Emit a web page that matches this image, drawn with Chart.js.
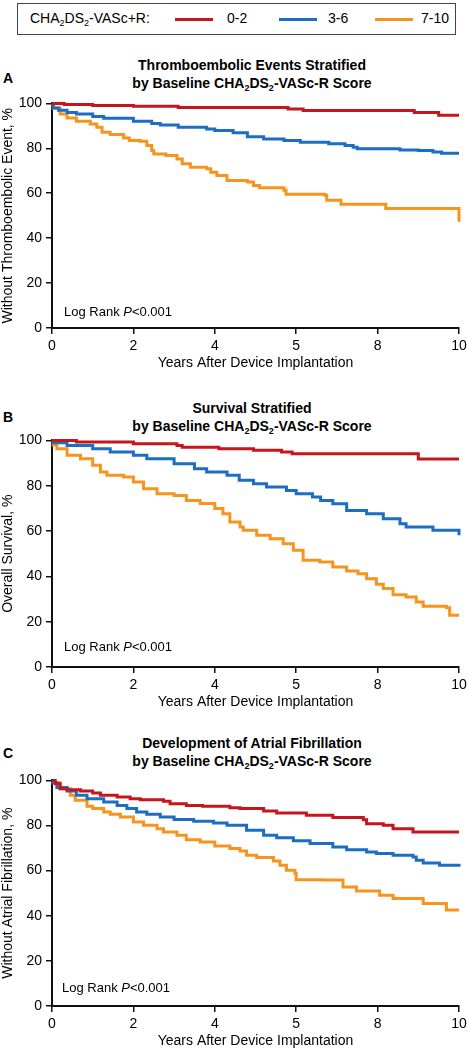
<!DOCTYPE html>
<html>
<head>
<meta charset="utf-8">
<script src="https://cdn.jsdelivr.net/npm/chart.js@4.4.1/dist/chart.umd.min.js"></script>
<style>
  body { margin: 0; background: #fff; font-family: "Liberation Sans", Arial, sans-serif; color: #000; }
  #page { position: relative; width: 468px; height: 1050px; overflow: hidden; }
  .abs { position: absolute; white-space: nowrap; }
  sub { font-size: 9px; vertical-align: -3px; line-height: 0; }
  #legend { left: 17px; top: 3px; width: 437px; height: 30px; border: 1.5px solid #444; }
  .leg-line { position: absolute; top: 14px; width: 38px; height: 3px; }
  .leg-txt { position: absolute; top: 6px; font-size: 14px; }
  .title { font-size: 14px; font-weight: bold; text-align: center; width: 300px; line-height: 18px; }
  .letter { font-size: 14px; font-weight: bold; }
  .logrank { font-size: 13px; }
  canvas { position: absolute; left: 0; }
</style>
</head>
<body>
<div id="page">
  <div id="legend" class="abs">
    <span class="leg-txt" style="left:12px">CHA<sub>2</sub>DS<sub>2</sub>-VASc+R:</span>
    <span class="leg-line" id="leg0" style="left:157px"></span>
    <span class="leg-txt" style="left:209px">0-2</span>
    <span class="leg-line" id="leg1" style="left:261px"></span>
    <span class="leg-txt" style="left:310px">3-6</span>
    <span class="leg-line" id="leg2" style="left:357px"></span>
    <span class="leg-txt" style="left:403px">7-10</span>
  </div>

  <div class="abs letter" style="left:3px; top:70px">A</div>
  <div class="abs title" style="left:102px; top:56px">Thromboembolic Events Stratified<br>by Baseline CHA<sub>2</sub>DS<sub>2</sub>-VASc-R Score</div>
  <canvas id="chartA" width="473" height="281" style="top:91px"></canvas>
  <div class="abs logrank" style="left:64px; top:304px">Log Rank <i>P</i>&lt;0.001</div>

  <div class="abs letter" style="left:3px; top:409px">B</div>
  <div class="abs title" style="left:102px; top:399px">Survival Stratified<br>by Baseline CHA<sub>2</sub>DS<sub>2</sub>-VASc-R Score</div>
  <canvas id="chartB" width="473" height="283" style="top:428px"></canvas>
  <div class="abs logrank" style="left:64px; top:639px">Log Rank <i>P</i>&lt;0.001</div>

  <div class="abs letter" style="left:3px; top:745px">C</div>
  <div class="abs title" style="left:102px; top:734px">Development of Atrial Fibrillation<br>by Baseline CHA<sub>2</sub>DS<sub>2</sub>-VASc-R Score</div>
  <canvas id="chartC" width="473" height="282" style="top:768px"></canvas>
  <div class="abs logrank" style="left:62px; top:980px">Log Rank <i>P</i>&lt;0.001</div>
</div>

<script>
// Kaplan-Meier curves (years, % event-free), three score groups per panel.

const groups = ["0-2", "3-6", "7-10"];
const xTickLabels = ["0", "2", "4", "5", "8", "10"];   // as printed in the figure
const yTickValues = [0, 20, 40, 60, 80, 100];

// A: thromboembolic events
const teLowYears = [0, 0.3, 1.0, 2.0, 3.1, 5.8, 6.17, 8.9, 9.5, 10];
const teLowPct   = [100, 99.5, 99.1, 98.7, 98.2, 97.5, 96.8, 96.0, 94.7, 94.7];
const teMidYears = [0, 0.03, 0.16, 0.37, 0.6, 1.0, 1.27, 2.0, 2.45, 2.66, 3.1, 3.8, 4.0, 4.45, 4.8, 5.2, 5.7, 6.1, 6.8, 7.2, 7.4, 7.5, 8.55, 9.0, 9.36, 9.57, 10];
const teMidPct   = [100, 98, 97, 96, 95.3, 94.2, 93.4, 92, 91.1, 90.4, 89.4, 88.6, 87.9, 86.9, 85.2, 84.2, 83.5, 82.7, 82, 81.2, 80.5, 79.8, 79.3, 79, 78.4, 77.8, 77.8];
const teHighYears = [0, 0.03, 0.2, 0.37, 0.6, 0.94, 1.1, 1.23, 1.43, 1.76, 1.9, 2.17, 2.33, 2.45, 2.5, 2.8, 3.07, 3.2, 3.4, 3.8, 3.9, 4.05, 4.3, 4.8, 4.95, 5.1, 5.7, 5.75, 6.7, 6.75, 7.1, 8.2, 9.95, 10];
const teHighPct   = [100, 98, 95.3, 93.5, 92, 90.8, 89.4, 87.1, 86.1, 84.6, 83.5, 83.2, 81.2, 79, 77.5, 76.8, 75.3, 73.1, 71.6, 70.9, 69.4, 67.9, 65.7, 65, 63.5, 62.5, 61.3, 59.5, 59.1, 56.9, 55.1, 53.2, 53.2, 47.3];

// B: overall survival
const osLowYears = [0, 0.6, 2.0, 3.07, 3.2, 4.1, 4.95, 5.64, 5.9, 9.0, 10];
const osLowPct   = [100, 99.3, 98.5, 97.8, 97.0, 96.3, 95.6, 94.9, 94.1, 91.8, 91.8];
const osMidYears = [0, 0.03, 0.37, 1.0, 1.43, 2.0, 2.33, 3.0, 3.5, 3.8, 4.3, 4.6, 4.95, 5.27, 5.76, 6.0, 6.4, 6.6, 6.9, 7.24, 7.73, 8.14, 8.55, 8.7, 9.36, 10];
const osMidPct   = [100, 99, 97.8, 96.3, 94.9, 93.4, 91.9, 89.7, 87.5, 86, 84.6, 82.4, 80.9, 79.4, 77.9, 76.5, 75, 73.5, 72, 69.1, 67.6, 65.4, 63.2, 61.8, 60.3, 58.1];
const osHighYears = [0, 0.03, 0.12, 0.37, 0.7, 1.0, 1.19, 1.35, 1.76, 2.0, 2.25, 2.58, 3.0, 3.3, 3.64, 4.0, 4.2, 4.37, 4.62, 4.7, 5.03, 5.36, 5.68, 5.93, 6.17, 6.58, 6.9, 7.24, 7.52, 7.73, 7.97, 8.14, 8.38, 8.7, 8.95, 9.12, 9.69, 9.77, 10];
const osHighPct   = [100, 98, 96.3, 93.4, 91.9, 89, 86, 84.6, 83.8, 81.6, 78.7, 76.5, 75.7, 73.5, 72.1, 69.9, 67.6, 64, 61.8, 60.3, 58.1, 56.6, 54.4, 51.5, 47.1, 46.3, 44.1, 42.4, 41.2, 39, 36.5, 34.6, 31.9, 30.9, 28.7, 26.8, 26.2, 22.8, 22.8];

// C: free from atrial fibrillation
const afLowYears = [0, 0.08, 0.2, 0.37, 0.7, 1.0, 1.19, 1.6, 1.92, 2.17, 2.74, 2.9, 3.3, 3.7, 4.37, 4.62, 5.2, 5.52, 6.25, 6.9, 7.65, 7.73, 8.14, 8.38, 8.87, 10];
const afLowPct   = [100, 98.5, 96.3, 95.9, 95.3, 94.4, 93.4, 92.6, 91.9, 91.4, 90.8, 89.7, 88.9, 88.5, 87.9, 87.5, 86.4, 85.5, 84.5, 83.5, 82.6, 80.8, 80.1, 78.6, 77.1, 77.1];
const afMidYears = [0, 0.03, 0.12, 0.37, 0.6, 0.86, 1.27, 1.6, 1.84, 2.08, 2.33, 2.66, 3.0, 3.48, 3.97, 4.3, 4.78, 5.2, 5.52, 5.93, 6.34, 6.9, 7.24, 7.73, 7.97, 8.38, 8.87, 8.95, 9.12, 9.52, 10];
const afMidPct   = [100, 99, 96.8, 95.3, 93.4, 91.9, 90.4, 88.9, 87.5, 86, 85, 83.8, 82.7, 81.9, 81.1, 80.1, 77.9, 75.7, 74.6, 73.2, 72, 70.5, 69.3, 68.3, 67.6, 66.8, 66.1, 64.6, 63.4, 62.4, 61.7];
const afHighYears = [0, 0.03, 0.2, 0.45, 0.57, 0.86, 1.0, 1.27, 1.43, 1.68, 2.0, 2.25, 2.58, 2.74, 3.07, 3.3, 3.64, 4.0, 4.37, 4.62, 4.78, 5.03, 5.44, 5.6, 5.76, 5.97, 6.0, 6.66, 7.15, 7.48, 8.05, 8.38, 9.12, 9.69, 10];
const afHighPct   = [100, 99, 96.3, 93.4, 91.2, 88.5, 87.5, 86, 85, 83.8, 81.6, 80.1, 78.6, 77.1, 75.7, 73.7, 72.7, 70.9, 69.8, 68.7, 66.8, 65.8, 64.3, 62.4, 60.2, 58.7, 56, 55.8, 52.8, 51, 49.1, 47.6, 45.4, 42.5, 42.5];

const COLORS = ["#c5161d", "#1b6ec2", "#f7941d"];

Chart.defaults.font.family = '"Liberation Sans", Arial, sans-serif';
Chart.defaults.font.size = 14;
Chart.defaults.color = "#000";

COLORS.forEach((c, i) => { document.getElementById("leg" + i).style.background = c; });

function toPoints(xs, ys) { return xs.map((x, i) => ({ x, y: ys[i] })); }

function makePanel(id, yTitle, curves) {
  const ctx = document.getElementById(id);
  return new Chart(ctx, {
    type: "line",
    data: {
      datasets: curves.map((c, i) => ({
        label: groups[i],
        data: toPoints(c[0], c[1]),
        borderColor: COLORS[i],
        borderWidth: 3,
        stepped: true,
        pointRadius: 0,
        fill: false,
        clip: false
      }))
    },
    options: {
      responsive: false,
      animation: false,
      events: [],
      // padding kept larger than the tick-label overhang so the plot box lands where the figure has it
      layout: { padding: { top: 12, right: 14, left: 0, bottom: 0 } },
      plugins: { legend: { display: false }, tooltip: { enabled: false } },
      scales: {
        x: {
          type: "linear", min: 0, max: 10,
          afterBuildTicks: s => { s.ticks = xTickLabels.map((_, i) => ({ value: i * 2 })); },
          ticks: { padding: 4, maxRotation: 0, autoSkip: false, callback: (v) => xTickLabels[Math.round(v / 2)] },
          grid: { drawOnChartArea: false, drawTicks: true, tickLength: 6, color: "#111", lineWidth: 1.5 },
          border: { color: "#111", width: 2 },
          title: { display: true, text: "Years After Device Implantation", padding: 0, font: { size: 14 } },
          afterFit: s => { s.height = 44; }
        },
        y: {
          min: 0, max: 100,
          afterBuildTicks: s => { s.ticks = yTickValues.map(v => ({ value: v })); },
          ticks: { padding: 4, autoSkip: false },
          grid: { drawOnChartArea: false, drawTicks: true, tickLength: 6, color: "#111", lineWidth: 1.5 },
          border: { color: "#111", width: 2 },
          title: { display: true, text: yTitle, padding: 0, font: { size: 14 } },
          afterFit: s => { s.width = 52; }
        }
      }
    }
  });
}

makePanel("chartA", "Without Thromboembolic Event, %", [
  [teLowYears, teLowPct], [teMidYears, teMidPct], [teHighYears, teHighPct]
]);
makePanel("chartB", "Overall Survival, %", [
  [osLowYears, osLowPct], [osMidYears, osMidPct], [osHighYears, osHighPct]
]);
makePanel("chartC", "Without Atrial Fibrillation, %", [
  [afLowYears, afLowPct], [afMidYears, afMidPct], [afHighYears, afHighPct]
]);
</script>
</body>
</html>
